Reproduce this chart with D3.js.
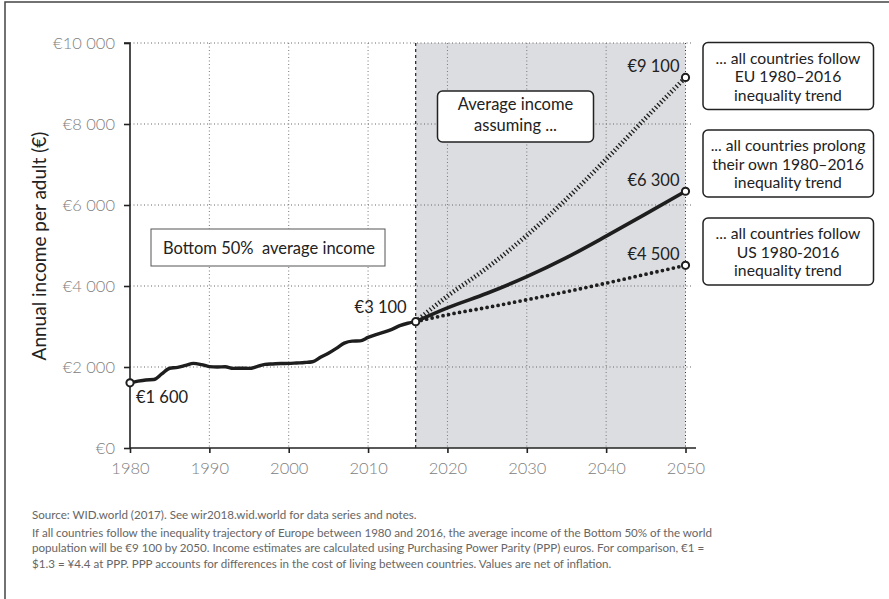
<!DOCTYPE html>
<html>
<head>
<meta charset="utf-8">
<script src="https://cdn.jsdelivr.net/npm/d3@7"></script>
<style>
  html, body { margin: 0; padding: 0; background: #fff; }
  svg { display: block; font-family: Lato, "Open Sans", sans-serif; }
</style>
</head>
<body>
<svg id="chart" width="889" height="599"></svg>
<script>
// ---- data ----
const histYears = [1980,1981,1982,1983,1984,1985,1986,1987,1988,1989,1990,1991,1992,1993,1994,1995,1996,1997,1998,1999,2000,2001,2002,2003,2004,2005,2006,2007,2008,2009,2010,2011,2012,2013,2014,2015,2016];
const histValues = [1610,1650,1680,1690,1830,1970,1990,2040,2090,2060,2010,2000,2005,1965,1970,1965,2010,2065,2075,2085,2090,2100,2110,2130,2240,2340,2460,2590,2640,2645,2730,2800,2860,2930,3020,3080,3120];
const projYears = [2016,2020,2025,2030,2035,2040,2045,2050];
const euValues  = [3120,3750,4450,5250,6150,7130,8150,9150];
const ownValues = [3120,3460,3820,4230,4700,5230,5780,6340];
const usValues  = [3120,3290,3470,3660,3860,4070,4290,4510];
const yTicks = [0,2000,4000,6000,8000,10000];
const yTickLabels = ["€0","€2 000","€4 000","€6 000","€8 000","€10 000"];
const xTicks = [1980,1990,2000,2010,2020,2030,2040,2050];
const pointLabels = [
  {year:1980, value:1610, text:"€1 600"},
  {year:2016, value:3120, text:"€3 100"},
  {year:2050, value:9150, text:"€9 100"},
  {year:2050, value:6340, text:"€6 300"},
  {year:2050, value:4510, text:"€4 500"}
];
const scenarioBoxes = [
  ["... all countries follow","EU 1980–2016","inequality trend"],
  ["... all countries prolong","their own 1980–2016","inequality trend"],
  ["... all countries follow","US 1980-2016","inequality trend"]
];
const sourceText = "Source: WID.world (2017). See wir2018.wid.world for data series and notes.";
const noteLines = [
  "If all countries follow the inequality trajectory of Europe between 1980 and 2016, the average income of the Bottom 50% of the world",
  "population will be €9 100 by 2050. Income estimates are calculated using Purchasing Power Parity (PPP) euros. For comparison, €1 =",
  "$1.3 = ¥4.4 at PPP. PPP accounts for differences in the cost of living between countries. Values are net of inflation."
];

// ---- layout ----
const svg = d3.select("#chart");
const x = d3.scaleLinear().domain([1980, 2050]).range([130, 685.5]);
const y = d3.scaleLinear().domain([0, 10000]).range([448, 43]);

// frame
svg.append("rect").attr("x",5).attr("y",2).attr("width",950).attr("height",700)
  .attr("fill","none").attr("stroke","#444").attr("stroke-width",1.5);

// shaded projection area
svg.append("rect")
  .attr("x", x(2016)).attr("y", y(10000))
  .attr("width", x(2050) - x(2016)).attr("height", y(0) - y(10000))
  .attr("fill", "#dcdde0");

// grid
const grid = svg.append("g");
yTicks.filter(d => d > 0).forEach(v => {
  grid.append("line").attr("x1", x(1980)).attr("x2", 691).attr("y1", y(v)).attr("y2", y(v))
    .attr("stroke","#666").attr("stroke-width",1).attr("stroke-dasharray","1,2.5");
});
xTicks.filter(d => d > 1980).forEach(t => {
  grid.append("line").attr("x1", x(t)).attr("x2", x(t)).attr("y1", y(10000)).attr("y2", y(0))
    .attr("stroke", t === 2050 ? "#333" : "#777").attr("stroke-width",1).attr("stroke-dasharray","1,2.5");
});
// 2016 divider
svg.append("line").attr("x1", x(2016)).attr("x2", x(2016)).attr("y1", y(10000)).attr("y2", y(0))
  .attr("stroke","#222").attr("stroke-width",1.2).attr("stroke-dasharray","3,3");

// axes
const yAxis = d3.axisLeft(y).tickValues(yTicks).tickFormat((d,i) => yTickLabels[i]).tickSize(6).tickPadding(9);
const gy = svg.append("g").attr("transform","translate(130,0)").call(yAxis);
gy.select(".domain").attr("stroke","#222").attr("stroke-width",1.6).attr("d", `M-6,${y(10000)}H0V${y(0)}`);
gy.selectAll(".tick line").attr("stroke","#222").attr("stroke-width",1.6);
gy.selectAll(".tick text").attr("fill","#808080").style("font-size","16.5px").style("font-weight",300)
  .style("font-family","Lato, sans-serif");

const xAxis = d3.axisBottom(x).tickValues(xTicks).tickFormat(d3.format("d")).tickSize(5).tickPadding(9);
const gx = svg.append("g").attr("transform",`translate(0,${y(0)})`).call(xAxis);
gx.select(".domain").attr("stroke","#222").attr("stroke-width",1.6).attr("d", `M130,0H696`);
gx.selectAll(".tick line").attr("stroke","#222").attr("stroke-width",1.6);
gx.selectAll(".tick text").attr("fill","#808080").style("font-size","16.5px").style("font-weight",300)
  .style("font-family","Lato, sans-serif");

// y label
svg.append("text").attr("transform","translate(46,246) rotate(-90)").attr("text-anchor","middle")
  .attr("fill","#222").style("font-size","19px").text("Annual income per adult (€)");

// lines
const histLine = d3.line().x((d,i) => x(histYears[i])).y(d => y(d)).curve(d3.curveMonotoneX);
svg.append("path").attr("d", histLine(histValues)).attr("fill","none")
  .attr("stroke","#1e1e1e").attr("stroke-width",3.4).attr("stroke-linejoin","round");

const projLine = d3.line().x((d,i) => x(projYears[i])).y(d => y(d)).curve(d3.curveMonotoneX);
svg.append("path").attr("d", projLine(euValues)).attr("fill","none")
  .attr("stroke","#1e1e1e").attr("stroke-width",4.6).attr("stroke-dasharray","1.3,2.4");
svg.append("path").attr("d", projLine(usValues)).attr("fill","none")
  .attr("stroke","#1e1e1e").attr("stroke-width",3.8).attr("stroke-linecap","round").attr("stroke-dasharray","0,5.6");
svg.append("path").attr("d", projLine(ownValues)).attr("fill","none")
  .attr("stroke","#1e1e1e").attr("stroke-width",3.6);

// end markers
pointLabels.forEach(p => {
  svg.append("circle").attr("cx", x(p.year)).attr("cy", y(p.value)).attr("r",3.6)
    .attr("fill","#fff").attr("stroke","#1e1e1e").attr("stroke-width",2);
});

// point labels
const pl = svg.append("g").attr("fill","#222").style("font-size","16.5px");
pl.append("text").attr("x", x(1980)+6).attr("y", y(1610)+20).text(pointLabels[0].text);
pl.append("text").attr("x", x(2016)-9).attr("y", y(3120)-9).attr("text-anchor","end").text(pointLabels[1].text);
[2,3,4].forEach(i => {
  pl.append("text").attr("x", x(2050)-6).attr("y", y(pointLabels[i].value)-5).attr("text-anchor","end").text(pointLabels[i].text);
});

// "Bottom 50%" box
svg.append("rect").attr("x",151).attr("y",229).attr("width",234).attr("height",37)
  .attr("fill","#fff").attr("stroke","#555").attr("stroke-width",1);
svg.append("text").attr("x",163).attr("y",253.5).attr("fill","#222").style("font-size","16.5px")
  .style("white-space","pre").attr("xml:space","preserve")
  .text("Bottom 50%  average income");

// "Average income assuming" box
svg.append("rect").attr("x",437.5).attr("y",91).attr("width",156).attr("height",51).attr("rx",5)
  .attr("fill","#fff").attr("stroke","#222").attr("stroke-width",1.5);
svg.append("text").attr("x",515.5).attr("y",110).attr("text-anchor","middle").attr("fill","#222")
  .style("font-size","16.5px").text("Average income");
svg.append("text").attr("x",515.5).attr("y",131).attr("text-anchor","middle").attr("fill","#222")
  .style("font-size","16.5px").text("assuming ...");

// scenario boxes
const boxTops = [42.5, 130, 218];
scenarioBoxes.forEach((lines, i) => {
  svg.append("rect").attr("x",703).attr("y",boxTops[i]).attr("width",170.5).attr("height",67).attr("rx",5)
    .attr("fill","#fff").attr("stroke","#222").attr("stroke-width",1.5);
  lines.forEach((t, j) => {
    svg.append("text").attr("x",788).attr("y",boxTops[i] + 21 + j*18.5).attr("text-anchor","middle")
      .attr("fill","#222").style("font-size","15.7px").text(t);
  });
});

// footer
const foot = svg.append("g").attr("fill","#666").style("font-size","11.6px");
foot.append("text").attr("x",32).attr("y",519).text(sourceText);
noteLines.forEach((t,i) => foot.append("text").attr("x",32).attr("y",537 + i*15.3).text(t));
</script>
</body>
</html>
